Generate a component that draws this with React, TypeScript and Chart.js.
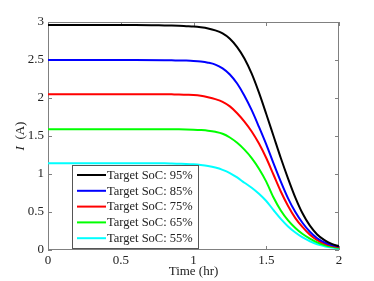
import React, { useEffect, useRef } from "react";
import { Chart, registerables } from "chart.js";

Chart.register(...registerables);

const times = [0, 0.2, 0.4, 0.6, 0.8, 0.85, 0.9, 0.95, 1.0, 1.05, 1.1, 1.15, 1.2, 1.25, 1.3, 1.35, 1.4, 1.45, 1.5, 1.55, 1.6, 1.65, 1.7, 1.75, 1.8, 1.85, 1.9, 1.95, 2.0];
const soc95 = [2.96, 2.96, 2.96, 2.96, 2.955, 2.953, 2.95, 2.945, 2.94, 2.93, 2.915, 2.89, 2.85, 2.78, 2.67, 2.52, 2.32, 2.07, 1.79, 1.5, 1.21, 0.94, 0.69, 0.48, 0.32, 0.205, 0.13, 0.08, 0.05];
const soc85 = [2.5, 2.5, 2.5, 2.5, 2.498, 2.496, 2.494, 2.492, 2.488, 2.48, 2.465, 2.44, 2.39, 2.31, 2.19, 2.03, 1.84, 1.62, 1.39, 1.14, 0.9, 0.68, 0.5, 0.355, 0.24, 0.155, 0.1, 0.065, 0.045];
const soc75 = [2.05, 2.05, 2.05, 2.05, 2.05, 2.048, 2.046, 2.043, 2.04, 2.03, 2.01, 1.985, 1.95, 1.89, 1.8, 1.69, 1.56, 1.4, 1.21, 0.99, 0.77, 0.58, 0.42, 0.3, 0.2, 0.13, 0.085, 0.055, 0.035];
const soc65 = [1.59, 1.59, 1.59, 1.59, 1.59, 1.589, 1.588, 1.586, 1.583, 1.578, 1.57, 1.555, 1.53, 1.48, 1.41, 1.32, 1.21, 1.07, 0.9, 0.69, 0.52, 0.39, 0.29, 0.21, 0.15, 0.1, 0.065, 0.042, 0.03];
const soc55 = [1.14, 1.14, 1.14, 1.14, 1.14, 1.138, 1.135, 1.132, 1.127, 1.118, 1.105, 1.085, 1.055, 1.013, 0.955, 0.885, 0.82, 0.74, 0.645, 0.525, 0.41, 0.31, 0.23, 0.165, 0.115, 0.075, 0.05, 0.032, 0.02];

const seriesLabels = ["Target SoC: 95%", "Target SoC: 85%", "Target SoC: 75%", "Target SoC: 65%", "Target SoC: 55%"];
const seriesColors = ["#000000", "#0000ff", "#ff0000", "#00ff00", "#00ffff"];
const seriesValues = [soc95, soc85, soc75, soc65, soc55];
const xTicks = [0, 0.5, 1, 1.5, 2];
const yTicks = [0, 0.5, 1, 1.5, 2, 2.5, 3];

const FONT = "'Liberation Serif', 'Times New Roman', serif";

const framePlugin = {
  id: "frame",
  beforeDatasetsDraw(chart: any) {
    const { ctx, chartArea: a, scales } = chart;
    ctx.save();
    ctx.strokeStyle = "#808080";
    ctx.lineWidth = 1;
    ctx.strokeRect(a.left + 0.5, a.top + 0.5, a.right - a.left - 1, a.bottom - a.top - 1);
    const tl = 4;
    ctx.beginPath();
    xTicks.forEach((v) => {
      const px = Math.round(scales.x.getPixelForValue(v)) + 0.5;
      ctx.moveTo(px, a.bottom);
      ctx.lineTo(px, a.bottom - tl);
      ctx.moveTo(px, a.top);
      ctx.lineTo(px, a.top + tl);
    });
    yTicks.forEach((v) => {
      const py = Math.round(scales.y.getPixelForValue(v)) + 0.5;
      ctx.moveTo(a.left, py);
      ctx.lineTo(a.left + tl, py);
      ctx.moveTo(a.right, py);
      ctx.lineTo(a.right - tl, py);
    });
    ctx.stroke();
    ctx.restore();
  },
  afterDatasetsDraw(chart: any) {
    const { ctx, chartArea: a } = chart;
    ctx.save();
    const bx = 72, by = 165, bw = 126, bh = 83;
    ctx.fillStyle = "#ffffff";
    ctx.fillRect(bx, by, bw, bh);
    ctx.strokeStyle = "#555555";
    ctx.lineWidth = 1;
    ctx.strokeRect(bx + 0.5, by + 0.5, bw, bh);
    ctx.font = `12.5px ${FONT}`;
    ctx.textBaseline = "middle";
    ctx.textAlign = "left";
    chart.data.datasets.forEach((ds: any, i: number) => {
      const cy = by + 10 + i * 15.8;
      ctx.strokeStyle = ds.borderColor;
      ctx.lineWidth = 2;
      ctx.beginPath();
      ctx.moveTo(bx + 5, cy);
      ctx.lineTo(bx + 34, cy);
      ctx.stroke();
      ctx.fillStyle = "#222222";
      ctx.fillText(ds.label, bx + 35, cy + 0.5);
    });
    ctx.fillStyle = "#222222";
    ctx.font = `13px ${FONT}`;
    ctx.textAlign = "center";
    ctx.textBaseline = "middle";
    ctx.fillText("Time (hr)", (a.left + a.right) / 2, 272);
    ctx.translate(21, (a.top + a.bottom) / 2);
    ctx.rotate(-Math.PI / 2);
    ctx.font = `italic 13px ${FONT}`;
    const iw = ctx.measureText("I").width;
    ctx.font = `13px ${FONT}`;
    const rest = "  (A)";
    const rw = ctx.measureText(rest).width;
    const total = iw + rw;
    ctx.textAlign = "left";
    ctx.font = `italic 13px ${FONT}`;
    ctx.fillText("I", -total / 2, 0);
    ctx.font = `13px ${FONT}`;
    ctx.fillText(rest, -total / 2 + iw, 0);
    ctx.restore();
  },
};

export default function App() {
  const ref = useRef<HTMLCanvasElement | null>(null);
  useEffect(() => {
    document.body.style.margin = "0";
    const canvas = ref.current;
    if (!canvas) return;
    const chart = new Chart(canvas, {
      type: "line",
      data: {
        datasets: seriesValues.map((vals, i) => ({
          label: seriesLabels[i],
          data: times.map((t, j) => ({ x: t, y: vals[j] })),
          borderColor: seriesColors[i],
          backgroundColor: seriesColors[i],
          borderWidth: 2,
          pointRadius: 0,
          cubicInterpolationMode: "monotone" as const,
          fill: false,
        })),
      },
      options: {
        animation: false,
        responsive: false,
        devicePixelRatio: 1,
        layout: { padding: { left: 0, right: 35, top: 22, bottom: 0 } },
        plugins: { legend: { display: false }, tooltip: { enabled: false } },
        scales: {
          x: {
            type: "linear",
            min: 0,
            max: 2,
            afterFit: (s: any) => { s.height = 31; },
            afterBuildTicks: (s: any) => { s.ticks = xTicks.map((v) => ({ value: v })); },
            grid: { display: false, drawTicks: false },
            border: { display: false },
            ticks: {
              padding: 3,
              color: "#222222",
              font: { family: FONT, size: 13 },
              callback: (v: any) => String(v),
              maxRotation: 0,
            },
          },
          y: {
            type: "linear",
            min: 0,
            max: 3,
            afterFit: (s: any) => { s.width = 48; },
            afterBuildTicks: (s: any) => { s.ticks = yTicks.map((v) => ({ value: v })); },
            grid: { display: false, drawTicks: false },
            border: { display: false },
            ticks: {
              padding: 4,
              color: "#222222",
              font: { family: FONT, size: 13 },
              callback: (v: any) => String(v),
            },
          },
        },
      },
      plugins: [framePlugin],
    });
    return () => chart.destroy();
  }, []);
  return (
    <div style={{ width: 374, height: 281, background: "#fff" }}>
      <canvas ref={ref} width={374} height={281} />
    </div>
  );
}
